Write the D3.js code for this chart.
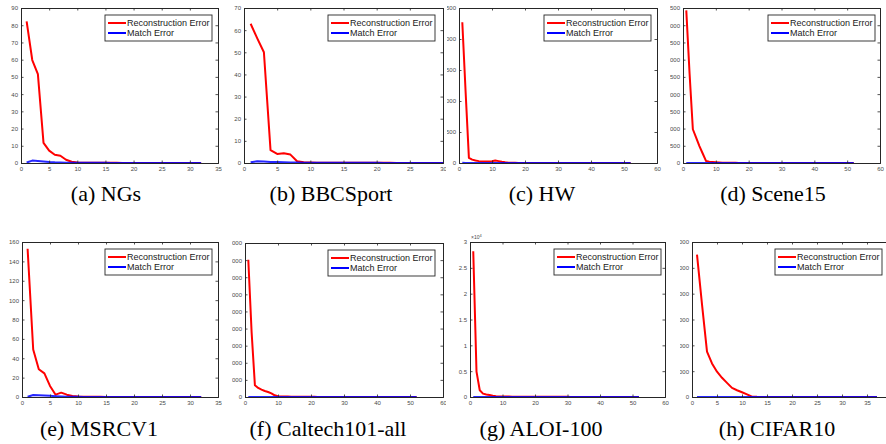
<!DOCTYPE html>
<html>
<head>
<meta charset="utf-8">
<script src="https://cdn.jsdelivr.net/npm/d3@7"></script>
<style>
  html, body { margin: 0; padding: 0; background: #fff; }
  svg { display: block; }
</style>
</head>
<body>
<svg id="chart" width="886" height="444"></svg>
<script>
// Convergence curves: reconstruction error and match error per iteration

const captions = ["(a) NGs", "(b) BBCSport", "(c) HW", "(d) Scene15",
                  "(e) MSRCV1", "(f) Caltech101-all", "(g) ALOI-100", "(h) CIFAR10"];

const ngsRecon = [82.2, 59.8, 51.6, 11.7, 7.2, 4.8, 4.2, 1.9, 0.7, 0.3, 0.2, 0.15, 0.12, 0.1, 0.1, 0.08,
                  0.08, 0.07, 0.07, 0.06, 0.06, 0.05, 0.05, 0.05, 0.05, 0.04, 0.04, 0.04, 0.04, 0.04, 0.04, 0.04];
const ngsMatch = [0.3, 1.4, 1.2, 0.9, 0.6, 0.4, 0.3, 0.2, 0.15, 0.12, 0.1, 0.1, 0.09, 0.08, 0.08, 0.07,
                  0.07, 0.06, 0.06, 0.06, 0.05, 0.05, 0.05, 0.05, 0.05, 0.04, 0.04, 0.04, 0.04, 0.04, 0.04, 0.04];

const bbcRecon = [62.9, 56.3, 50.0, 5.8, 4.1, 4.4, 3.8, 0.8, 0.3, 0.2, 0.15, 0.12, 0.1, 0.1, 0.09,
                  0.08, 0.08, 0.07, 0.07, 0.06, 0.06, 0.06, 0.05, 0.05, 0.05, 0.05, 0.04, 0.04, 0.04, 0.04];
const bbcMatch = [0.3, 0.8, 0.7, 0.5, 0.4, 0.3, 0.25, 0.2, 0.15, 0.12, 0.1, 0.1, 0.09, 0.08, 0.08,
                  0.07, 0.07, 0.06, 0.06, 0.06, 0.05, 0.05, 0.05, 0.05, 0.05, 0.04, 0.04, 0.04, 0.04, 0.04];

const hwRecon = [2270, 1150, 82, 54, 40, 30, 26, 25, 25, 28, 40, 30, 20, 12, 6, 4, 3, 2, 2, 2,
                 2, 2, 2, 2, 1, 1, 1, 1, 1, 1, 1, 1, 1, 1, 1, 1, 1, 1, 1, 1,
                 1, 1, 1, 1, 1, 1, 1, 1, 1, 1, 1, 1];
const hwMatch = [3, 2, 2, 2, 2, 2, 2, 2, 2, 2, 2, 2, 2, 2, 2, 2, 2, 2, 2, 2,
                 2, 2, 2, 2, 2, 2, 2, 2, 2, 2, 2, 2, 2, 2, 2, 2, 2, 2, 2, 2,
                 2, 2, 2, 2, 2, 2, 2, 2, 2, 2, 2, 2];

const sceneRecon = [4430, 2600, 980, 735, 490, 275, 60, 40, 30, 22, 15, 10, 8, 6, 5, 4, 3, 3, 2, 2,
                    2, 2, 2, 2, 2, 1, 1, 1, 1, 1, 1, 1, 1, 1, 1, 1, 1, 1, 1, 1,
                    1, 1, 1, 1, 1, 1, 1, 1, 1, 1, 1, 1];
const sceneMatch = [3, 3, 2, 2, 2, 2, 2, 2, 2, 2, 2, 2, 2, 2, 2, 2, 2, 2, 2, 2,
                    2, 2, 2, 2, 2, 2, 2, 2, 2, 2, 2, 2, 2, 2, 2, 2, 2, 2, 2, 2,
                    2, 2, 2, 2, 2, 2, 2, 2, 2, 2, 2, 2];

const msrcRecon = [153, 49, 28.6, 24.4, 11.4, 2.4, 4.5, 2.4, 1.0, 0.4, 0.3, 0.2, 0.2, 0.15, 0.12, 0.1,
                   0.1, 0.09, 0.08, 0.08, 0.07, 0.07, 0.06, 0.06, 0.06, 0.05, 0.05, 0.05, 0.05, 0.05, 0.05, 0.05];
const msrcMatch = [0.3, 2.0, 1.8, 1.5, 1.2, 0.8, 0.5, 0.3, 0.2, 0.15, 0.1, 0.1, 0.09, 0.08, 0.08, 0.07,
                   0.07, 0.06, 0.06, 0.06, 0.05, 0.05, 0.05, 0.05, 0.05, 0.05, 0.05, 0.05, 0.05, 0.05, 0.05, 0.05];

const caltechRecon = [8020, 3800, 685, 528, 430, 352, 293, 215, 98, 40, 30, 25, 22, 20, 18, 16, 14, 12, 11, 10,
                      8, 6, 5, 4, 3, 3, 2, 2, 2, 2, 2, 2, 2, 2, 2, 2, 2, 2, 2, 2,
                      2, 2, 2, 2, 2, 2, 2, 2, 2, 2, 2, 2];
const caltechMatch = [5, 5, 5, 5, 5, 5, 5, 5, 5, 5, 5, 5, 5, 5, 5, 5, 5, 5, 5, 5,
                      5, 5, 5, 5, 5, 5, 5, 5, 5, 5, 5, 5, 5, 5, 5, 5, 5, 5, 5, 5,
                      5, 5, 5, 5, 5, 5, 5, 5, 5, 5, 5, 5];

const aloiRecon = [2.82, 0.49, 0.13, 0.065, 0.05, 0.04, 0.025, 0.015, 0.012, 0.01, 0.009, 0.008, 0.007, 0.007, 0.006,
                   0.006, 0.005, 0.005, 0.005, 0.005, 0.004, 0.004, 0.004, 0.004, 0.003, 0.003, 0.003, 0.003, 0.003,
                   0.003, 0.002, 0.002, 0.002, 0.002, 0.002, 0.002, 0.002, 0.002, 0.002, 0.002, 0.002, 0.002, 0.002,
                   0.002, 0.002, 0.002, 0.002, 0.002, 0.002, 0.002, 0.002, 0.002];
const aloiMatch = [0.001, 0.001, 0.001, 0.001, 0.001, 0.001, 0.001, 0.001, 0.001, 0.001, 0.001, 0.001, 0.001,
                   0.001, 0.001, 0.001, 0.001, 0.001, 0.001, 0.001, 0.001, 0.001, 0.001, 0.001, 0.001, 0.001,
                   0.001, 0.001, 0.001, 0.001, 0.001, 0.001, 0.001, 0.001, 0.001, 0.001, 0.001, 0.001, 0.001,
                   0.001, 0.001, 0.001, 0.001, 0.001, 0.001, 0.001, 0.001, 0.001, 0.001, 0.001, 0.001, 0.001];

const cifarRecon = [5515, 3585, 1760, 1300, 978, 743, 548, 352, 261, 183, 104, 13, 5, 3, 2, 2, 2, 2, 2,
                    2, 2, 2, 2, 2, 2, 2, 2, 2, 2, 2, 2, 2, 2, 2, 2, 2, 2];
const cifarMatch = [2, 2, 2, 2, 2, 2, 2, 2, 2, 2, 2, 2, 2, 2, 2, 2, 2, 2, 2,
                    2, 2, 2, 2, 2, 2, 2, 2, 2, 2, 2, 2, 2, 2, 2, 2, 2, 2];

const xTicks35 = [0, 5, 10, 15, 20, 25, 30, 35];
const xTicks30 = [0, 5, 10, 15, 20, 25, 30];
const xTicks60 = [0, 10, 20, 30, 40, 50, 60];

const ngsYTicks = [0, 10, 20, 30, 40, 50, 60, 70, 80, 90];
const bbcYTicks = [0, 10, 20, 30, 40, 50, 60, 70];
const hwYTicks = [0, 500, 1000, 1500, 2000, 2500];
const sceneYTicks = [0, 500, 1000, 1500, 2000, 2500, 3000, 3500, 4000, 4500];
const msrcYTicks = [0, 20, 40, 60, 80, 100, 120, 140, 160];
const caltechYTicks = [0, 1000, 2000, 3000, 4000, 5000, 6000, 7000, 8000, 9000];
const aloiYTicks = [0, 0.5, 1, 1.5, 2, 2.5, 3];
const cifarYTicks = [0, 1000, 2000, 3000, 4000, 5000, 6000];

const legendLabels = ["Reconstruction Error", "Match Error"];
const seriesColors = ["#ff0000", "#0000ff"];

// Layout of each subplot: plot frame, the visible strip it owns, caption anchor
const panels = [
  {recon: ngsRecon, match: ngsMatch, xd: [0, 35], xt: xTicks35, yt: ngsYTicks,
   frame: [21, 8, 218, 163], clip: [0, 222], cx: 106, cy: 201, lgap: 6},
  {recon: bbcRecon, match: bbcMatch, xd: [0, 30], xt: xTicks30, yt: bbcYTicks,
   frame: [244, 8, 443, 163], clip: [222, 446], cx: 331, cy: 201, lgap: 8},
  {recon: hwRecon, match: hwMatch, xd: [0, 60], xt: xTicks60, yt: hwYTicks,
   frame: [459, 8, 657, 163], clip: [447, 667], cx: 542, cy: 201, lgap: 6},
  {recon: sceneRecon, match: sceneMatch, xd: [0, 60], xt: xTicks60, yt: sceneYTicks,
   frame: [683, 8, 880, 163], clip: [670, 886], cx: 773, cy: 201, lgap: 5},
  {recon: msrcRecon, match: msrcMatch, xd: [0, 35], xt: xTicks35, yt: msrcYTicks,
   frame: [22, 242, 218, 397], clip: [0, 222], cx: 99, cy: 436, lgap: 6},
  {recon: caltechRecon, match: caltechMatch, xd: [0, 60], xt: xTicks60, yt: caltechYTicks,
   frame: [245, 243, 443, 397], clip: [232, 446], cx: 328, cy: 436, lgap: 8},
  {recon: aloiRecon, match: aloiMatch, xd: [0, 60], xt: xTicks60, yt: aloiYTicks,
   frame: [470, 242, 665, 397], clip: [446, 680], cx: 541, cy: 436, lgap: 4, expo: true},
  {recon: cifarRecon, match: cifarMatch, xd: [0, 40], xt: xTicks35, yt: cifarYTicks,
   frame: [692, 242, 892, 397], clip: [680, 886], cx: 777, cy: 436, lgap: 8}
];

const svg = d3.select("#chart");
const defs = svg.append("defs");
const axisColor = "#262626";
const labelColor = "#4a4a4a";
const tickFont = "'Liberation Sans', Arial, sans-serif";

panels.forEach((p, i) => {
  const [x0, y0, x1, y1] = p.frame;
  const rowTop = y0 < 200 ? 0 : 222;

  defs.append("clipPath").attr("id", "strip" + i)
    .append("rect").attr("x", p.clip[0]).attr("y", rowTop)
    .attr("width", p.clip[1] - p.clip[0]).attr("height", 212);
  defs.append("clipPath").attr("id", "plot" + i)
    .append("rect").attr("x", x0).attr("y", y0 - 2)
    .attr("width", x1 - x0).attr("height", y1 - y0 + 4);

  const g = svg.append("g").attr("clip-path", `url(#strip${i})`);

  const x = d3.scaleLinear().domain(p.xd).range([x0, x1]);
  const y = d3.scaleLinear().domain([p.yt[0], p.yt[p.yt.length - 1]]).range([y1, y0]);

  // Data lines
  const line = d3.line().x((d, k) => x(k + 1)).y(d => y(d));
  const lines = g.append("g").attr("clip-path", `url(#plot${i})`);
  lines.append("path").datum(p.recon).attr("d", line)
    .attr("fill", "none").attr("stroke", seriesColors[0]).attr("stroke-width", 2)
    .attr("stroke-linejoin", "round");
  lines.append("path").datum(p.match).attr("d", line)
    .attr("fill", "none").attr("stroke", seriesColors[1]).attr("stroke-width", 2)
    .attr("stroke-opacity", 0.85).attr("stroke-linejoin", "round");

  // Axes on all four sides, ticks pointing inward, box outline
  const tickFmt = d => String(d);
  const bottom = g.append("g").attr("transform", `translate(0,${y1})`)
    .call(d3.axisBottom(x).tickValues(p.xt).tickSize(-2.5).tickPadding(4).tickFormat(tickFmt));
  const top = g.append("g").attr("transform", `translate(0,${y0})`)
    .call(d3.axisTop(x).tickValues(p.xt).tickSize(-2.5).tickFormat(""));
  const left = g.append("g").attr("transform", `translate(${x0},0)`)
    .call(d3.axisLeft(y).tickValues(p.yt).tickSize(-2.5).tickPadding(3).tickFormat(tickFmt));
  const right = g.append("g").attr("transform", `translate(${x1},0)`)
    .call(d3.axisRight(y).tickValues(p.yt).tickSize(-2.5).tickFormat(""));

  [bottom, top, left, right].forEach(a => {
    a.select(".domain").attr("stroke", axisColor).attr("stroke-width", 1);
    a.selectAll(".tick line").attr("stroke", axisColor).attr("stroke-width", 0.8);
    a.selectAll(".tick text").attr("fill", labelColor)
      .style("font-family", tickFont).style("font-size", "6px");
  });

  if (p.expo) {
    const t = g.append("text").attr("x", x0 + 1).attr("y", y0 - 3)
      .attr("fill", labelColor)
      .style("font-family", tickFont).style("font-size", "5px");
    t.append("tspan").text("×10");
    t.append("tspan").attr("dy", -2).style("font-size", "4px").text("4");
  }

  // Legend box in the upper-right corner
  const lw = 107, lh = 26;
  const lx = Math.min(x1, 890) - p.lgap - lw;
  const ly = y0 + 7;
  const lg = g.append("g");
  lg.append("rect").attr("x", lx).attr("y", ly).attr("width", lw).attr("height", lh)
    .attr("fill", "#fff").attr("stroke", axisColor).attr("stroke-width", 0.9);
  legendLabels.forEach((lab, k) => {
    const ry = ly + 8 + k * 10;
    lg.append("line").attr("x1", lx + 3).attr("x2", lx + 21).attr("y1", ry).attr("y2", ry)
      .attr("stroke", seriesColors[k]).attr("stroke-width", 2);
    lg.append("text").attr("x", lx + 22).attr("y", ry + 3.2).text(lab)
      .attr("fill", "#1a1a1a")
      .style("font-family", tickFont).style("font-size", "9px");
  });

  // Subfigure caption
  svg.append("text").attr("x", p.cx).attr("y", p.cy).attr("text-anchor", "middle")
    .text(captions[i]).attr("fill", "#000")
    .style("font-family", "'Liberation Serif', 'Times New Roman', serif").style("font-size", "22px");
});
</script>
</body>
</html>
